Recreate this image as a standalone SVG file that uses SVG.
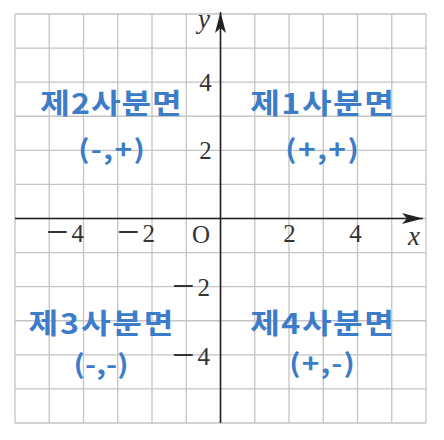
<svg xmlns="http://www.w3.org/2000/svg" width="444" height="440" viewBox="0 0 444 440">
  <style>
    .grid { stroke: #c4c4c4; stroke-width: 1.3; fill: none; }
    .axis { stroke: #222; stroke-width: 1.6; fill: none; }
    .tick { font-family: "Liberation Serif", serif; font-size: 25px; fill: #333; }
    .minus { font-size: 40px; }
    .var { font-family: "Liberation Serif", serif; font-style: italic; font-size: 27px; fill: #333; }
    .quad { font-family: "Noto Sans CJK KR", "Noto Sans", sans-serif; font-weight: bold; font-size: 28px; fill: #3c7cc8; text-anchor: middle; }
    .sign { font-family: "Noto Sans CJK KR", "Noto Sans", sans-serif; font-weight: bold; font-size: 26px; fill: #3c7cc8; text-anchor: middle; }
  </style>
  <defs>
    <marker id="arrow" markerUnits="userSpaceOnUse" markerWidth="30" markerHeight="16" viewBox="-22 -8 24 16" refX="0" refY="0" orient="auto">
      <path d="M0,0 L-21,-5.5 L-16,0 L-21,5.5 Z" fill="#222"/>
    </marker>
  </defs>
  <rect width="444" height="440" fill="#fff"/>
  <g id="grid">
    <path class="grid" d="M15,14V423 M49.25,14V423 M83.5,14V423 M117.75,14V423 M152,14V423 M186.25,14V423 M220.5,14V423 M254.75,14V423 M289,14V423 M323.25,14V423 M357.5,14V423 M391.75,14V423 M426,14V423
      M15,14H426 M15,48.08H426 M15,82.17H426 M15,116.25H426 M15,150.33H426 M15,184.42H426 M15,218.5H426 M15,252.58H426 M15,286.67H426 M15,320.75H426 M15,354.83H426 M15,388.92H426 M15,423H426"/>
  </g>
  <g id="connectors">
    <line id="x-axis" class="axis" x1="15" y1="218.5" x2="423" y2="218.5" marker-end="url(#arrow)"/>
    <line id="y-axis" class="axis" x1="220.5" y1="423" x2="220.5" y2="12" marker-end="url(#arrow)"/>
  </g>
  <g id="labels">
    <text class="var" x="414" y="245" text-anchor="middle">x</text>
    <text class="var" x="204" y="28" text-anchor="middle">y</text>
    <text class="tick" x="192" y="242.5">O</text>
    <text class="tick" x="46" y="241.5"><tspan class="minus" dy="3">−</tspan><tspan dx="3" dy="-3">4</tspan></text>
    <text class="tick" x="117" y="241.5"><tspan class="minus" dy="3">−</tspan><tspan dx="3" dy="-3">2</tspan></text>
    <text class="tick" x="289.5" y="241.5" text-anchor="middle">2</text>
    <text class="tick" x="355.5" y="241.5" text-anchor="middle">4</text>
    <text class="tick" x="205.5" y="90.5" text-anchor="middle">4</text>
    <text class="tick" x="205.5" y="158.5" text-anchor="middle">2</text>
    <text class="tick" x="172" y="295.5"><tspan class="minus" dy="3">−</tspan><tspan dx="3" dy="-3">2</tspan></text>
    <text class="tick" x="172" y="364.5"><tspan class="minus" dy="3">−</tspan><tspan dx="3" dy="-3">4</tspan></text>
  </g>
  <g id="q1">
    <text class="quad" transform="translate(322,114) scale(1.15,1)" textLength="125" lengthAdjust="spacing">제1사분면</text>
    <text class="sign" transform="translate(322,159) scale(1.15,1)" textLength="64" lengthAdjust="spacing">(+,+)</text>
  </g>
  <g id="q2">
    <text class="quad" transform="translate(111,114) scale(1.15,1)" textLength="123" lengthAdjust="spacing">제2사분면</text>
    <text class="sign" transform="translate(111.5,159) scale(1.15,1)" textLength="58" lengthAdjust="spacing">(-,+)</text>
  </g>
  <g id="q3">
    <text class="quad" transform="translate(101,334) scale(1.15,1)" textLength="126" lengthAdjust="spacing">제3사분면</text>
    <text class="sign" transform="translate(101,374) scale(1.15,1)" textLength="48" lengthAdjust="spacing">(-,-)</text>
  </g>
  <g id="q4">
    <text class="quad" transform="translate(322,334) scale(1.15,1)" textLength="125" lengthAdjust="spacing">제4사분면</text>
    <text class="sign" transform="translate(322,373) scale(1.15,1)" textLength="57" lengthAdjust="spacing">(+,-)</text>
  </g>
</svg>
